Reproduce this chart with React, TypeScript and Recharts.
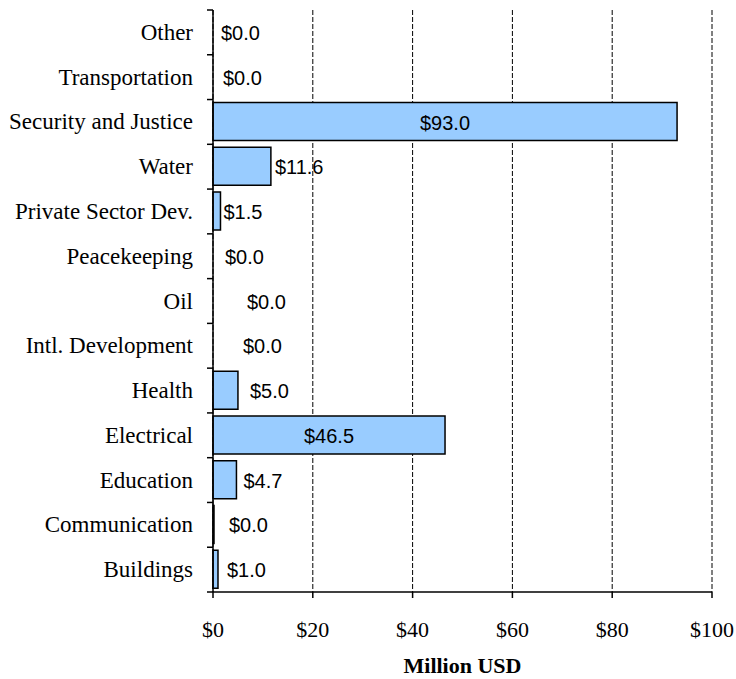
import { BarChart, Bar, XAxis, YAxis, CartesianGrid, LabelList, Label, Cell } from "recharts";

const categories = [
  "Other",
  "Transportation",
  "Security and Justice",
  "Water",
  "Private Sector Dev.",
  "Peacekeeping",
  "Oil",
  "Intl. Development",
  "Health",
  "Electrical",
  "Education",
  "Communication",
  "Buildings",
];
const funding = [0, 0, 93.0, 11.6, 1.5, 0, 0, 0, 5.0, 46.5, 4.7, 0.04, 1.0];
const xTicks = [0, 20, 40, 60, 80, 100];

// gap between bar end and its value label, px (the original placement is uneven)
const labelGap: Record<string, number> = {
  Other: 8,
  Transportation: 10,
  Water: 4,
  "Private Sector Dev.": 3,
  Peacekeeping: 12,
  Oil: 34,
  "Intl. Development": 30,
  Health: 12,
  Education: 7,
  Communication: 15,
  Buildings: 9,
};

const data = categories.map((name, i) => ({ name, value: funding[i] }));

const W = 736;
const H = 679;
const TOP = 10;
const PLOT_BOTTOM = 592;
const BAND = (PLOT_BOTTOM - TOP) / categories.length;
const serif = "'Liberation Serif', 'Times New Roman', serif";
const sans = "'Liberation Sans', Arial, sans-serif";

function CategoryTick(props: any) {
  const { x, y, payload } = props;
  const ax = x + 20;
  const half = BAND / 2;
  const last = payload.value === categories[categories.length - 1];
  return (
    <g>
      <line x1={ax - 6} x2={ax} y1={y - half} y2={y - half} stroke="#000" strokeWidth={1.5} />
      {last && <line x1={ax - 6} x2={ax} y1={y + half} y2={y + half} stroke="#000" strokeWidth={1.5} />}
      <text x={x} y={y} textAnchor="end" dominantBaseline="central" fontFamily={serif} fontSize={23} fill="#000">
        {payload.value}
      </text>
    </g>
  );
}

function ValueLabel(props: any) {
  const { x, y, width, height, value: name } = props;
  const value = funding[categories.indexOf(name)];
  const text = `$${Number(value).toFixed(1)}`;
  const cy = Number(y) + Number(height) / 2 + 1;
  if (value > 40) {
    return (
      <text x={Number(x) + Number(width) / 2} y={cy} textAnchor="middle" dominantBaseline="central" fontFamily={sans} fontSize={20} fill="#000">
        {text}
      </text>
    );
  }
  const barEnd = value === 0 ? Number(x) : Number(x) + Number(width);
  const gap = labelGap[name] ?? 6;
  return (
    <text x={barEnd + gap} y={cy} textAnchor="start" dominantBaseline="central" fontFamily={sans} fontSize={20} fill="#000">
      {text}
    </text>
  );
}

export default function App() {
  return (
    <div style={{ width: W, height: H }}>
      <style>{`body { margin: 0; }`}</style>
      <BarChart
        width={W}
        height={H}
        data={data}
        layout="vertical"
        margin={{ top: TOP, right: 24, left: 0, bottom: 0 }}
        barCategoryGap={3}
      >
        <CartesianGrid horizontal={false} stroke="#000" strokeDasharray="5 2" strokeWidth={1} />
        <XAxis
          type="number"
          domain={[0, 100]}
          ticks={xTicks}
          tickFormatter={(v) => `$${v}`}
          height={87}
          tickSize={6}
          tickMargin={23}
          axisLine={{ stroke: "#000", strokeWidth: 1.5 }}
          tickLine={{ stroke: "#000", strokeWidth: 1.5 }}
          tick={{ fill: "#000", fontFamily: serif, fontSize: 22 }}
        >
          <Label
            content={(p: any) => {
              const vb = p.viewBox || {};
              return (
                <text x={vb.x + vb.width / 2} y={673} textAnchor="middle" fontFamily={serif} fontWeight="bold" fontSize={22} fill="#000">
                  Million USD
                </text>
              );
            }}
          />
        </XAxis>
        <YAxis
          type="category"
          dataKey="name"
          width={213}
          tickSize={6}
          tickMargin={14}
          tickLine={false}
          axisLine={{ stroke: "#000", strokeWidth: 1.5 }}
          tick={<CategoryTick />}
          interval={0}
        />
        <Bar dataKey="value" fill="#99CCFF" stroke="#000" strokeWidth={1.5} barSize={38} minPointSize={1} isAnimationActive={false}>
          {data.map((d) => (
            <Cell key={d.name} fillOpacity={d.value === 0 ? 0 : 1} stroke={d.value === 0 ? "none" : "#000"} />
          ))}
          <LabelList dataKey="name" content={<ValueLabel />} />
        </Bar>
      </BarChart>
    </div>
  );
}
